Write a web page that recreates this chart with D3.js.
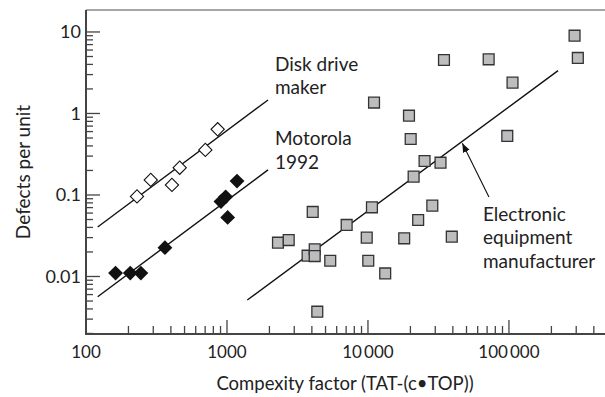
<!DOCTYPE html>
<html>
<head>
<meta charset="utf-8">
<script src="https://cdn.jsdelivr.net/npm/d3@7"></script>
<style>
  body { margin: 0; background: #fff; }
  text { font-family: Lato, "DejaVu Sans", sans-serif; fill: #222; }
</style>
</head>
<body>
<script>
// chart size
var width = 605;
var height = 397;
var margin = {top: 10, right: 0, bottom: 63, left: 86};

// Disk drive maker (open diamonds)
var diskX = [230, 288, 407, 462, 702, 859];
var diskY = [0.096, 0.153, 0.133, 0.216, 0.357, 0.64];

// Motorola 1992 (black diamonds)
var motoX = [162, 206, 245, 363, 906, 979, 1011, 1178];
var motoY = [0.011, 0.011, 0.011, 0.0226, 0.083, 0.095, 0.053, 0.148];

// Electronic equipment manufacturer (grey squares)
var elecX = [2300, 2740, 3730, 4055, 4190, 4190, 4370, 5400, 7060, 9800, 10050, 10670, 11040, 13250,
  18070, 19540, 20090, 21080, 22700, 25200, 28600, 32700, 34600, 39300, 71800, 97300, 106000, 292000, 308000];
var elecY = [0.026, 0.028, 0.018, 0.062, 0.0216, 0.0178, 0.0037, 0.0156, 0.0429, 0.030, 0.0156, 0.0706, 1.36, 0.0109,
  0.0294, 0.94, 0.486, 0.168, 0.0493, 0.261, 0.074, 0.249, 4.53, 0.0308, 4.62, 0.53, 2.39, 9.0, 4.8];

// fitted lines, as [x, y] end points
var diskFit = [[121, 0.0405], [1954, 1.465]];
var motoFit = [[121, 0.00565], [1954, 0.203]];
var elecFit = [[1393, 0.00515], [223000, 3.35]];

// tick labels
var xMajor = [100, 1000, 10000, 100000];
var yMajor = [10, 1, 0.1, 0.01];

// annotations
var diskLabel = ["Disk drive", "maker"];
var motoLabel = ["Motorola", "1992"];
var elecLabel = ["Electronic", "equipment", "manufacturer"];
var elecArrow = [[72100, 0.0945], [46700, 0.43]];

var svg = d3.select('body').append('svg')
  .attr('width', width)
  .attr('height', height);

var x = d3.scaleLog()
  .domain([100, 480000])
  .range([margin.left, width - margin.right]);

var y = d3.scaleLog()
  .domain([0.00197, 18.6])
  .range([height - margin.bottom, margin.top]);

var axisColor = '#444';
var x0 = x.range()[0], y0 = y.range()[0];

function isMajor(list, d) {
  return list.some(function(m) { return Math.abs(m - d) / m < 1e-6; });
}

// top frame line
svg.append('line')
  .attr('x1', x0).attr('x2', x.range()[1])
  .attr('y1', y.range()[1]).attr('y2', y.range()[1])
  .attr('stroke', '#888').attr('stroke-width', 1.5);

function fmtX(d) {
  return d >= 10000 ? d3.format(',')(d).replace(/,/g, '\u2009') : String(d);
}

// x ticks (pointing inside)
svg.append('g').selectAll('line')
  .data(x.ticks().filter(function(d) { return d > 100; }))
  .enter().append('line')
  .attr('x1', function(d) { return x(d); })
  .attr('x2', function(d) { return x(d); })
  .attr('y1', y0)
  .attr('y2', function(d) { return y0 - (isMajor(xMajor, d) ? 14 : 8); })
  .attr('stroke', axisColor).attr('stroke-width', 1.3);

svg.append('g').selectAll('text')
  .data(xMajor)
  .enter().append('text')
  .attr('x', function(d) { return x(d); })
  .attr('y', y0 + 24)
  .attr('text-anchor', 'middle')
  .style('font-size', '17px')
  .text(fmtX);

// y ticks
svg.append('g').selectAll('line')
  .data(y.ticks())
  .enter().append('line')
  .attr('x1', x0)
  .attr('x2', function(d) { return x0 + (isMajor(yMajor, d) ? 14 : 7); })
  .attr('y1', function(d) { return y(d); })
  .attr('y2', function(d) { return y(d); })
  .attr('stroke', axisColor).attr('stroke-width', 1.3);

svg.append('g').selectAll('text')
  .data(yMajor)
  .enter().append('text')
  .attr('x', x0 - 5)
  .attr('y', function(d) { return y(d); })
  .attr('dy', '0.36em')
  .attr('text-anchor', 'end')
  .style('font-size', '18px')
  .text(function(d) { return String(d); });

// axis lines
svg.append('line')
  .attr('x1', x0).attr('x2', x.range()[1])
  .attr('y1', y0).attr('y2', y0)
  .attr('stroke', axisColor).attr('stroke-width', 2);
svg.append('line')
  .attr('x1', x0).attr('x2', x0)
  .attr('y1', y.range()[1]).attr('y2', y0 + 1)
  .attr('stroke', axisColor).attr('stroke-width', 2);

// axis titles
svg.append('text')
  .attr('x', 345).attr('y', 390)
  .attr('text-anchor', 'middle')
  .style('font-size', '18.5px')
  .text('Compexity factor (TAT-(c\u2022TOP))');

svg.append('text')
  .attr('transform', 'translate(30,172) rotate(-90)')
  .attr('text-anchor', 'middle')
  .style('font-size', '19px')
  .text('Defects per unit');

// fitted lines
var line = d3.line()
  .x(function(d) { return x(d[0]); })
  .y(function(d) { return y(d[1]); });

[diskFit, motoFit, elecFit].forEach(function(f) {
  svg.append('path')
    .attr('d', line(f))
    .attr('fill', 'none')
    .attr('stroke', '#111')
    .attr('stroke-width', 1.4);
});

// arrow
svg.append('defs').append('marker')
  .attr('id', 'head')
  .attr('viewBox', '0 0 10 10')
  .attr('refX', 10).attr('refY', 5)
  .attr('markerWidth', 9).attr('markerHeight', 9)
  .attr('markerUnits', 'userSpaceOnUse')
  .attr('orient', 'auto')
  .append('path')
  .attr('d', 'M0,1 L10,5 L0,9 Z')
  .attr('fill', '#111');

svg.append('path')
  .attr('d', line(elecArrow))
  .attr('stroke', '#111')
  .attr('stroke-width', 1.1)
  .attr('marker-end', 'url(#head)');

// markers
var square = d3.symbol().type(d3.symbolSquare);

svg.selectAll('.elec')
  .data(d3.zip(elecX, elecY))
  .enter()
  .append('path')
  .attr('class', 'elec')
  .attr('d', square.size(118)())
  .attr('transform', function(d) { return 'translate(' + x(d[0]) + ',' + y(d[1]) + ')'; })
  .attr('fill', '#bdbdbf')
  .attr('stroke', '#333')
  .attr('stroke-width', 1.3);

svg.selectAll('.disk')
  .data(d3.zip(diskX, diskY))
  .enter()
  .append('path')
  .attr('class', 'disk')
  .attr('d', square.size(88)())
  .attr('transform', function(d) { return 'translate(' + x(d[0]) + ',' + y(d[1]) + ') rotate(45)'; })
  .attr('fill', '#fff')
  .attr('stroke', '#111')
  .attr('stroke-width', 1.1);

svg.selectAll('.moto')
  .data(d3.zip(motoX, motoY))
  .enter()
  .append('path')
  .attr('class', 'moto')
  .attr('d', square.size(110)())
  .attr('transform', function(d) { return 'translate(' + x(d[0]) + ',' + y(d[1]) + ') rotate(45)'; })
  .attr('fill', '#111');

// labels
function addLabel(lines, px, py) {
  var t = svg.append('text')
    .attr('x', x(px)).attr('y', y(py))
    .style('font-size', '19px');
  lines.forEach(function(s, i) {
    t.append('tspan').attr('x', x(px)).attr('dy', i === 0 ? 0 : 23.5).text(s);
  });
}
addLabel(diskLabel, 2190, 3.32);
addLabel(motoLabel, 2190, 0.41);
addLabel(elecLabel, 65400, 0.0484);
</script>
</body>
</html>
